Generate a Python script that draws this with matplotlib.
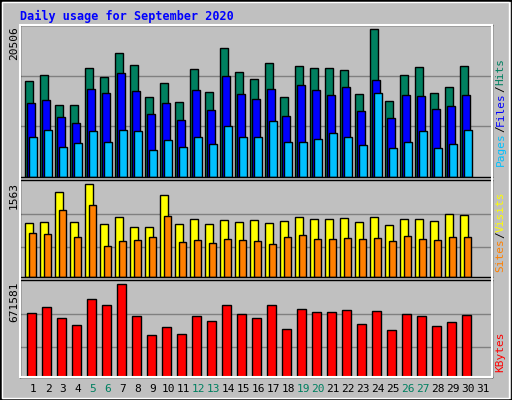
import matplotlib
matplotlib.use("Agg")
import matplotlib.pyplot as plt
from matplotlib.patches import Rectangle
import numpy as np

days = list(range(1, 32))
hits = [13300,14090,9900,9900,15070,13810,17160,15480,11020,12970,10320,14930,11720,17860,14510,
        13530,15760,11020,15350,15070,15070,14790,11440,20506,10460,14090,15210,11580,12420,15350]
files = [10180,10600,8230,7390,12140,11580,14370,11860,8650,10180,7810,12000,9210,13950,11440,
         10740,12140,8370,12690,12000,11300,12420,9070,13390,8090,11300,11160,9350,9770,11300]
pages = [5580,6560,4190,4740,6420,4880,6560,6420,3770,5160,4190,5580,4600,7110,5580,
         5580,7670,4880,4880,5300,6140,5580,4460,11580,4050,4880,6420,4050,4600,6560]
visits = [917,934,1427,934,1563,900,1019,849,849,1376,900,985,900,968,934,
          968,917,951,1019,985,985,1002,934,1019,883,985,985,951,1070,1053]
sites = [748,731,1138,680,1206,527,612,629,680,1036,595,629,578,646,629,
         612,561,680,714,646,646,663,646,663,612,697,646,629,680,680]
kbytes = [464900,509200,428000,376400,568300,524000,671581,442800,302600,361600,310000,442800,405900,524000,457600,
          428000,524000,346900,494500,472300,472300,487100,383800,479700,339500,457600,442800,369000,398500,450200]
weekends = [5,6,12,13,19,20,26,27]

BG = "#C0C0C0"
fig = plt.figure(figsize=(5.12, 4.0), dpi=100, facecolor=BG)
mono = "DejaVu Sans Mono"

fig.patches.append(Rectangle((0, 0), 1, 1, transform=fig.transFigure, fill=False,
                             edgecolor="black", linewidth=2))
fig.patches.append(Rectangle((0.004, 0.006), 0.99, 0.988, transform=fig.transFigure, fill=False,
                             edgecolor="white", linewidth=1))
fig.patches.append(Rectangle((0.039, 0.0575), 0.922, 0.88, transform=fig.transFigure, fill=False,
                             edgecolor="white", linewidth=1.5, zorder=5))

x = np.array(days[:30])
def mkax(rect, ymax, grids):
    ax = fig.add_axes(rect, facecolor=BG)
    ax.set_xlim(0.13, 31.6)
    ax.set_ylim(0, ymax)
    for g in grids:
        ax.axhline(g, color="#808080", linewidth=1, zorder=0)
    ax.set_xticks([]); ax.set_yticks([])
    for s in ax.spines.values():
        s.set_color("black"); s.set_linewidth(1)
    return ax

ax1 = mkax([0.039, 0.5575, 0.922, 0.38], 20995, [6998, 13997])
ax1.bar(x - 0.51, hits, width=0.49, align="edge", color="#008060", edgecolor="black", linewidth=1)
ax1.bar(x - 0.40, files, width=0.51, align="edge", color="#0000FF", edgecolor="black", linewidth=1)
ax1.bar(x - 0.27, pages, width=0.52, align="edge", color="#00C0FF", edgecolor="black", linewidth=1)

ax2 = mkax([0.039, 0.3075, 0.922, 0.2425], 1636, [510, 1070])
ax2.bar(x - 0.51, visits, width=0.53, align="edge", color="#FFFF00", edgecolor="black", linewidth=1)
ax2.bar(x - 0.25, sites, width=0.47, align="edge", color="#FF8000", edgecolor="black", linewidth=1)

ax3 = mkax([0.039, 0.0575, 0.922, 0.2425], 703300, [214000, 459800])
ax3.bar(x - 0.42, kbytes, width=0.64, align="edge", color="#FF0000", edgecolor="black", linewidth=1)

fig.text(0.039, 0.96, "Daily usage for September 2020", family=mono, weight="bold",
         color="#0000FF", fontsize=8.5, va="center", ha="left")

fig.text(0.027, 0.935, f"{max(hits)}", rotation=90, family=mono, fontsize=8, ha="center", va="top")
fig.text(0.027, 0.545, f"{max(visits)}", rotation=90, family=mono, fontsize=8, ha="center", va="top")
fig.text(0.027, 0.295, f"{max(kbytes)}", rotation=90, family=mono, fontsize=8, ha="center", va="top")

renderer = fig.canvas.get_renderer()
def rlabel(parts, y0):
    y = y0
    for txt, col in parts:
        t = fig.text(0.978, y, txt, rotation=90, family=mono, fontsize=8, color=col,
                     ha="center", va="bottom")
        bb = t.get_window_extent(renderer)
        y += bb.height / fig.bbox.height
rlabel([("Pages", "#00C0FF"), ("/", "#000000"), ("Files", "#0000FF"), ("/", "#000000"), ("Hits", "#008060")], 0.585)
rlabel([("Sites", "#FF8000"), ("/", "#000000"), ("Visits", "#FFFF00")], 0.32)
rlabel([("KBytes", "#FF0000")], 0.07)

xf = lambda d: 0.039 + (d - 0.13) / (31.6 - 0.13) * 0.922
for d in days:
    fig.text(xf(d), 0.027, str(d), family=mono, fontsize=8, ha="center", va="center",
             color="#008060" if d in weekends else "black")

fig.savefig("out.png", dpi=100, facecolor=BG)
